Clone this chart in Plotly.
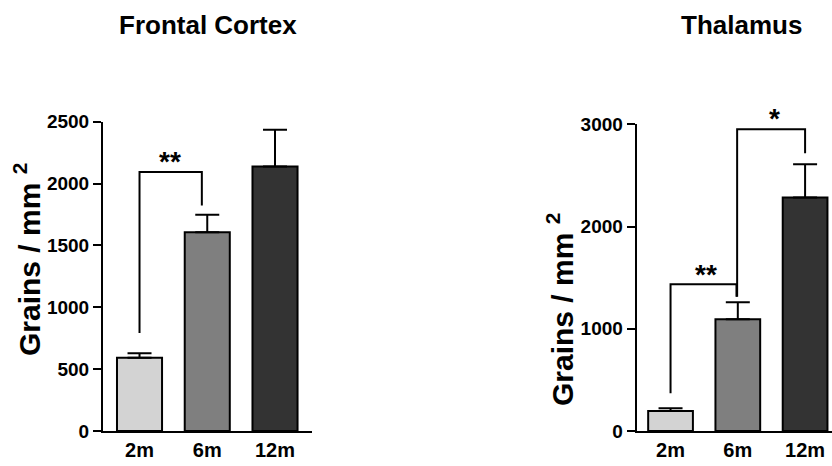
import plotly.graph_objects as go

# ---- data ----
categories = ["2m", "6m", "12m"]
bar_colors = ["#d3d3d3", "#7f7f7f", "#333333"]

fc_means = [593, 1607, 2138]
fc_sem = [36, 141, 297]
fc_ymax = 2500
fc_yticks = [0, 500, 1000, 1500, 2000, 2500]

th_means = [195, 1093, 2283]
th_sem = [27, 166, 326]
th_ymax = 3000
th_yticks = [0, 1000, 2000, 3000]

# brackets: (x_left, x_right, top, left_bottom, right_bottom, label, label_x, label_y)
fc_brackets = [(0, 0.92, 2093, 793, 1823, "**", 0.45, 2180)]
th_brackets = [
    (0, 0.98, 1435, 369, 1314, "**", 0.53, 1535),
    (0.99, 2.0, 2951, 1314, 2716, "*", 1.55, 3060),
]

font_family = "Liberation Sans, Arial, sans-serif"
W, H = 832, 466

fig = go.Figure()

def add_panel(means, sems, xa, ya, ymax, brackets):
    xs = list(range(len(categories)))
    fig.add_trace(go.Bar(
        x=xs, y=means,
        marker=dict(color=bar_colors, line=dict(color="black", width=2)),
        width=0.665,
        error_y=dict(type="data", array=sems, arrayminus=[0] * len(sems),
                     symmetric=False, color="black", thickness=2, width=12),
        xaxis=xa, yaxis=ya, showlegend=False,
    ))
    for (xl, xr, top, lb, rb, lab, lx, ly) in brackets:
        fig.add_trace(go.Scatter(
            x=[xl, xl, xr, xr], y=[lb, top, top, rb],
            mode="lines", line=dict(color="black", width=2),
            xaxis=xa, yaxis=ya, showlegend=False, cliponaxis=False,
            hoverinfo="skip",
        ))
        fig.add_annotation(x=lx, y=ly / ymax, xref=xa, yref=ya + " domain",
                           text=lab, showarrow=False, yanchor="middle",
                           font=dict(family=font_family, size=28, color="black",
                                     weight="bold"))

add_panel(fc_means, fc_sem, "x", "y", fc_ymax, fc_brackets)
add_panel(th_means, th_sem, "x2", "y2", th_ymax, th_brackets)

axis_common = dict(showline=True, linecolor="black", linewidth=2, showgrid=False,
                   zeroline=False, automargin=False)
tickfont = dict(family=font_family, size=19, color="black", weight="bold")
xtickfont = dict(family=font_family, size=20, color="black", weight="bold")

fig.update_layout(
    width=W, height=H,
    margin=dict(l=0, r=0, t=0, b=0, pad=0),
    plot_bgcolor="white", paper_bgcolor="white",
    xaxis=dict(domain=[103 / W, 312 / W], range=[-0.539, 2.546],
               tickmode="array", tickvals=[0, 1, 2], ticktext=categories,
               ticks="", tickfont=xtickfont, anchor="y", **axis_common),
    yaxis=dict(domain=[35 / H, 344.3 / H], range=[0, fc_ymax],
               tickmode="array", tickvals=fc_yticks,
               ticks="outside", ticklen=8, tickwidth=2, tickcolor="black",
               tickfont=tickfont, anchor="x", **axis_common),
    xaxis2=dict(domain=[636.7 / W, 1.0], range=[-0.503, 2.40],
                tickmode="array", tickvals=[0, 1, 2], ticktext=categories,
                ticks="", tickfont=xtickfont, anchor="y2", **axis_common),
    yaxis2=dict(domain=[35 / H, 341.7 / H], range=[0, th_ymax],
                tickmode="array", tickvals=th_yticks,
                ticks="outside", ticklen=8, tickwidth=2, tickcolor="black",
                tickfont=tickfont, anchor="x2", **axis_common),
)

title_font = dict(family=font_family, size=26, color="black", weight="bold")
ylab_font = dict(family=font_family, size=30, color="black", weight="bold")
fig.add_annotation(x=207.5 / W, y=1 - 25 / H, xref="paper", yref="paper",
                   text="Frontal Cortex", showarrow=False, font=title_font,
                   xanchor="center", yanchor="middle")
fig.add_annotation(x=741.5 / W, y=1 - 25 / H, xref="paper", yref="paper",
                   text="Thalamus", showarrow=False, font=title_font,
                   xanchor="center", yanchor="middle")
fig.add_annotation(x=27 / W, y=1 - 260 / H, xref="paper", yref="paper",
                   text="Grains / mm <sup>2</sup>", showarrow=False, textangle=-90,
                   font=ylab_font, xanchor="center", yanchor="middle")
fig.add_annotation(x=560 / W, y=1 - 310 / H, xref="paper", yref="paper",
                   text="Grains / mm <sup>2</sup>", showarrow=False, textangle=-90,
                   font=ylab_font, xanchor="center", yanchor="middle")

fig.write_html("out.html",
               config={"displayModeBar": False},
               post_script="document.body.style.margin='0';document.body.style.overflow='hidden';")
